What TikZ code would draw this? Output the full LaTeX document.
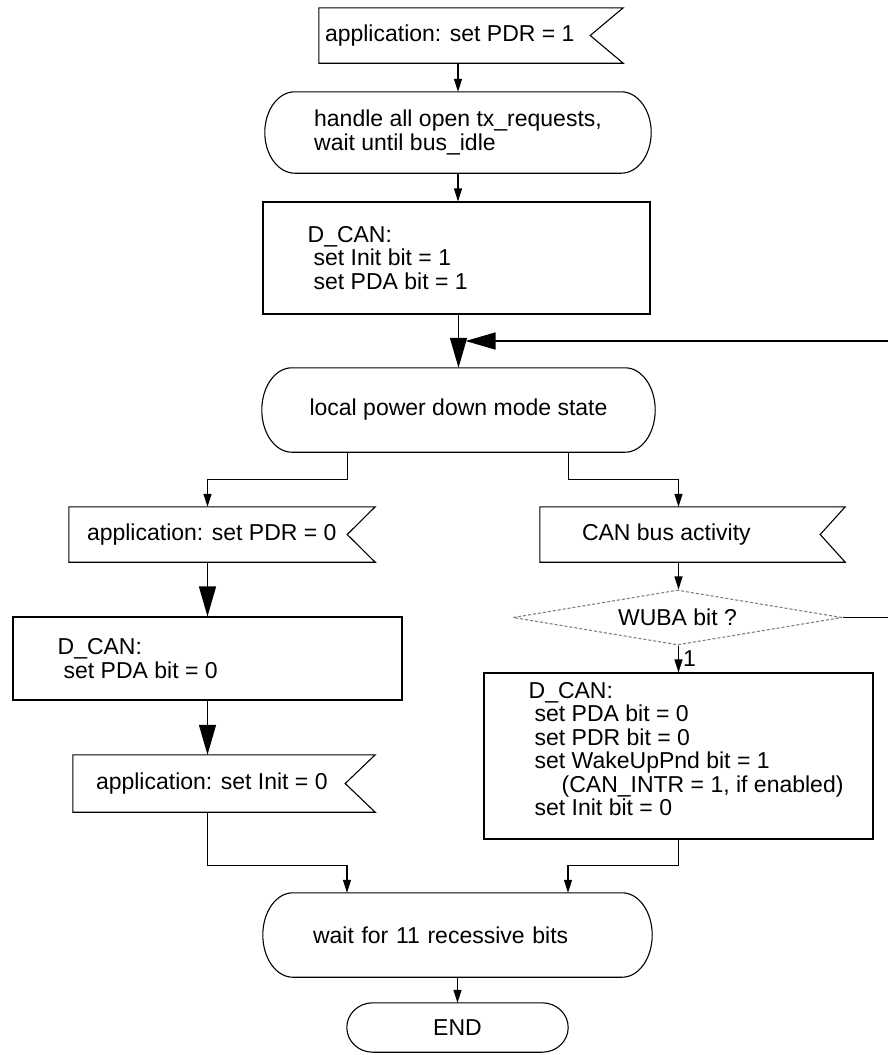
\documentclass[tikz,border=0pt]{standalone}
\usepackage{fontspec}
\setmainfont{Liberation Sans}
\usetikzlibrary{arrows.meta,calc,shapes.geometric}

% flag outline with the notch on the right
\newcommand{\flagline}[2]{%
  \draw[outline] (#1.north west) -- (#1.north east) -- ([xshift=-#2pt]#1.east)
    -- (#1.south east) -- (#1.south west) -- cycle;}

% stadium outline with flat elliptic ends
\newcommand{\stadiumline}[2]{%
  \draw[outline] let \p1=(#1.north east), \p2=(#1.south west), \n1={(\y1-\y2)/2} in
    (\x2+#2pt,\y1) -- (\x1-#2pt,\y1)
    arc[start angle=90,end angle=-90,x radius=#2pt,y radius=\n1]
    -- (\x2+#2pt,\y2)
    arc[start angle=270,end angle=90,x radius=#2pt,y radius=\n1] -- cycle;}

\begin{document}
\begin{tikzpicture}[x=1pt,y=-1pt,
  font=\fontsize{23}{23.5}\selectfont,
  plain/.style={inner sep=0pt},
  box/.style={draw,line width=1.1pt,inner sep=0pt},
  txt/.style={inner sep=0pt,align=left,anchor=west},
  outline/.style={line width=1.1pt},
  link/.style={line width=1.2pt,-{Triangle[length=13pt,width=8pt]}},
  biglink/.style={line width=1.3pt,-{Triangle[length=30pt,width=17pt]}},
  decision/.style={diamond,aspect=6,draw=gray,dash pattern=on 3pt off 2pt,
    line width=1.1pt,inner sep=0pt}]

\useasboundingbox (0,0) rectangle (888,1055);

%====================================================
% Main column
%====================================================
\node[plain,minimum width=304pt,minimum height=55pt] (setpdr) at (471,35.5) {};
\flagline{setpdr}{33}
\node[txt] (setpdr-t) at ([xshift=6pt]setpdr.west) {application: set PDR = 1};

\node[plain,minimum width=386pt,minimum height=81pt,align=left] (handle) at (458,132.5)
  {handle all open tx\_requests,\\wait until bus\_idle};
\stadiumline{handle}{30}

\node[box,minimum width=387pt,minimum height=112pt] (init) at (456.5,258) {};
\node[txt] (init-t) at ([xshift=45pt]init.west)
  {D\_CAN:\\\hspace*{6pt}set Init bit = 1\\\hspace*{6pt}set PDA bit = 1};

\node[plain,minimum width=393pt,minimum height=84pt] (lpd) at (458.5,410)
  {local power down mode state};
\stadiumline{lpd}{30}

%====================================================
% Left branch : application wakes up
%====================================================
\node[plain,minimum width=306pt,minimum height=55pt] (pdrzero) at (222,534.5) {};
\flagline{pdrzero}{28}
\node[txt] (pdrzero-t) at ([xshift=18pt]pdrzero.west) {application: set PDR = 0};

\node[box,minimum width=389pt,minimum height=83pt] (pda) at (207.5,658.5) {};
\node[txt] (pda-t) at ([xshift=45pt]pda.west) {D\_CAN:\\\hspace*{6pt}set PDA bit = 0};

\node[plain,minimum width=302pt,minimum height=57pt] (initzero) at (224,783.5) {};
\flagline{initzero}{30}
\node[txt] (initzero-t) at ([xshift=23pt]initzero.west) {application: set Init = 0};

%====================================================
% Right branch : bus wakes up
%====================================================
\node[plain,minimum width=305pt,minimum height=55pt] (canbus) at (692.5,534.5) {};
\flagline{canbus}{25}
\node[txt] (canbus-t) at ([xshift=42pt]canbus.west) {CAN bus activity};

\node[decision,minimum width=329pt,minimum height=55pt] (wuba) at (677.5,617.5) {WUBA bit ?};

\node[box,minimum width=389pt,minimum height=166pt] (wake) at (678.5,756) {};
\node[txt] (wake-t) at ([shift={(45,-7)}]wake.west)
  {D\_CAN:\\\hspace*{6pt}set PDA bit = 0\\\hspace*{6pt}set PDR bit = 0\\
   \hspace*{6pt}set WakeUpPnd bit = 1\\\hspace*{33pt}(CAN\_INTR = 1, if enabled)\\
   \hspace*{6pt}set Init bit = 0};

%====================================================
% End
%====================================================
\node[plain,minimum width=389pt,minimum height=84pt,text width=289pt,align=left]
  (wait) at (457.5,935) {wait for 11 recessive bits};
\stadiumline{wait}{30}

\node[plain,minimum width=221pt,minimum height=49pt] (finish) at (457.5,1027.5) {END};
\stadiumline{finish}{26}

%Arrows
\draw[link] (setpdr.south -| handle.north) -- (handle.north);
\draw[link] (handle.south) -- (handle.south |- init.north);
\draw[biglink] (init.south -| lpd.north) -- (lpd.north);

% loop back from WUBA bit ?
\coordinate (loop) at (893,341);
\draw[biglink] (wuba.east) -- (wuba.east -| loop) -- (loop) -- ([xshift=7pt]lpd.north |- loop);

\draw[link] ([xshift=-111pt]lpd.south) -- ++(0,27) -| (pda.north |- pdrzero.north);
\draw[link] ([xshift=110pt]lpd.south) -- ++(0,27) -| (wake.north |- canbus.north);

\draw[biglink] (pda.north |- pdrzero.south) -- (pda.north);
\draw[biglink] (pda.south) -- (pda.south |- initzero.north);

\draw[link] (wake.north |- canbus.south) -- (wake.north |- wuba.north);
\draw[link] (wake.north |- wuba.south) -- node[right,inner sep=4pt] (one) {1} (wake.north);

\draw[link] (pda.south |- initzero.south) -- ++(0,53) -| ([xshift=-110.5pt]wait.north);
\draw[link] (wake.south) -- ++(0,26) -| ([xshift=110.5pt]wait.north);
\draw[link] (wait.south) -- (finish.north);

\end{tikzpicture}
\end{document}
